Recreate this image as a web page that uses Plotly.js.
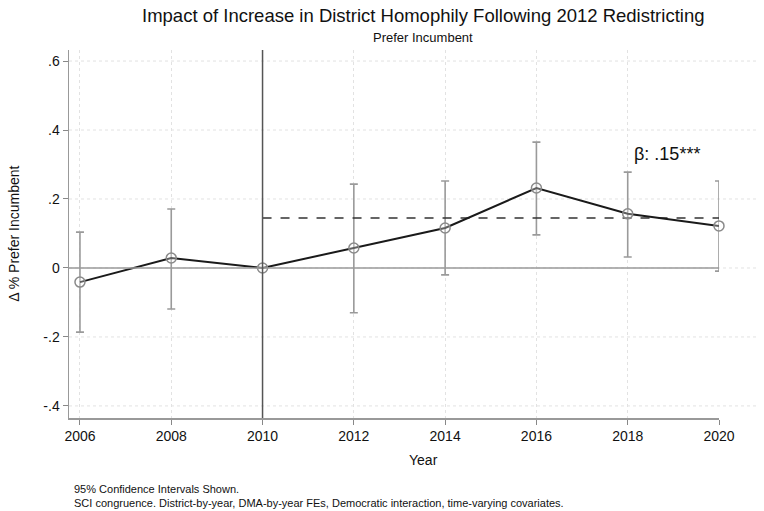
<!DOCTYPE html>
<html>
<head>
<meta charset="utf-8">
<script src="https://cdn.plot.ly/plotly-3.0.1.min.js"></script>
<style>
  html, body { margin: 0; padding: 0; background: #fff; }
  #chart { width: 764px; height: 511px; }
</style>
</head>
<body>
<div id="chart"></div>
<script>
// ─── Data ───
const years = [2006, 2008, 2010, 2012, 2014, 2016, 2018, 2020];
const coef = [-0.041, 0.029, 0, 0.058, 0.116, 0.232, 0.157, 0.122];
const ciHigh = [0.104, 0.171, 0, 0.243, 0.252, 0.365, 0.278, 0.252];
const ciLow = [-0.186, -0.119, 0, -0.13, -0.02, 0.096, 0.032, -0.009];
const beta = 0.145;
const yTickVals = [-0.4, -0.2, 0, 0.2, 0.4, 0.6];
const yTickText = ["-.4", "-.2", "0", ".2", ".4", ".6"];

const font = "Liberation Sans, Arial, Helvetica, sans-serif";

// 2010 is the reference year: no interval drawn
const hasCI = years.map((y, i) => ciHigh[i] !== ciLow[i]);

// ─── Traces ───
const ciTrace = {
  x: years.filter((y, i) => hasCI[i]),
  y: coef.filter((c, i) => hasCI[i]),
  type: "scatter",
  mode: "markers",
  marker: { size: 1, color: "rgba(0,0,0,0)" },
  cliponaxis: false,
  error_y: {
    type: "data",
    symmetric: false,
    array: coef.map((c, i) => ciHigh[i] - c).filter((v, i) => hasCI[i]),
    arrayminus: coef.map((c, i) => c - ciLow[i]).filter((v, i) => hasCI[i]),
    color: "#9a9a9a",
    thickness: 1.6,
    width: 4,
  },
  hoverinfo: "skip",
};

const betaTrace = {
  x: [2010, 2020],
  y: [beta, beta],
  type: "scatter",
  mode: "lines",
  line: { color: "#333", width: 1.5, dash: "dash" },
  hoverinfo: "skip",
};

const lineTrace = {
  x: years,
  y: coef,
  type: "scatter",
  mode: "lines+markers",
  cliponaxis: false,
  line: { color: "#1a1a1a", width: 2 },
  marker: {
    symbol: "circle",
    size: 10,
    color: "rgba(255,255,255,0.3)",
    line: { color: "#8a8a8a", width: 1.5 },
  },
};

// ─── Layout ───
const gridShapes = yTickVals.map((v) => ({
  type: "line", xref: "paper", yref: "y",
  x0: 0, x1: 1.06, y0: v, y1: v,
  line: { color: "#e2e2e2", width: 1, dash: "dot" },
  layer: "below",
}));

const layout = {
  width: 764,
  height: 511,
  paper_bgcolor: "#fff",
  plot_bgcolor: "#fff",
  font: { family: font, color: "#111", size: 14 },
  margin: { l: 69, r: 45, t: 50, b: 93 },
  showlegend: false,
  title: {
    text: "Impact of Increase in District Homophily Following 2012 Redistricting",
    font: { size: 18.5, family: font, color: "#111" },
    x: 0.554, xanchor: "center", y: 0.97, yanchor: "middle",
  },
  xaxis: {
    range: [2005.76, 2020.0],
    tickvals: years,
    ticktext: years.map(String),
    ticks: "outside",
    ticklen: 5,
    tickcolor: "#888",
    showline: true,
    linecolor: "#999",
    linewidth: 1.5,
    showgrid: true,
    gridcolor: "#e2e2e2",
    griddash: "dot",
    zeroline: false,
    tickfont: { size: 14 },
  },
  yaxis: {
    range: [-0.435, 0.632],
    tickvals: yTickVals,
    ticktext: yTickText,
    ticks: "outside",
    ticklen: 5,
    tickcolor: "#888",
    showline: true,
    linecolor: "#999",
    linewidth: 1.5,
    showgrid: false,
    zeroline: false,
    tickfont: { size: 14 },
  },
  shapes: gridShapes.concat([
    {
      type: "line", xref: "paper", yref: "y",
      x0: 0, x1: 1, y0: 0, y1: 0,
      line: { color: "#9a9a9a", width: 1.5 },
    },
    {
      type: "line", xref: "x", yref: "paper",
      x0: 2010, x1: 2010, y0: 0, y1: 1,
      line: { color: "#555", width: 1.5 },
    },
  ]),
  annotations: [
    {
      text: "Prefer Incumbent",
      xref: "paper", yref: "paper",
      x: 0.545, y: 1.033, xanchor: "center", yanchor: "middle",
      showarrow: false, font: { size: 13 },
    },
    {
      text: "Year",
      xref: "paper", yref: "paper",
      x: 0.545, y: -0.115, xanchor: "center", yanchor: "middle",
      showarrow: false, font: { size: 14 },
    },
    {
      text: "Δ % Prefer Incumbent",
      xref: "paper", yref: "paper",
      x: -0.085, y: 0.5, xanchor: "center", yanchor: "middle",
      textangle: -90,
      showarrow: false, font: { size: 14 },
    },
    {
      text: "β: .15***",
      xref: "x", yref: "y",
      x: 2018.1, y: 0.33, xanchor: "left", yanchor: "middle",
      showarrow: false, font: { size: 18 },
    },
    {
      text: "95% Confidence Intervals Shown.<br>SCI congruence. District-by-year, DMA-by-year FEs, Democratic interaction, time-varying covariates.",
      xref: "paper", yref: "paper",
      x: 0.004, y: -0.172, xanchor: "left", yanchor: "top", align: "left",
      showarrow: false, font: { size: 11 },
    },
  ],
};

Plotly.newPlot("chart", [ciTrace, betaTrace, lineTrace], layout, { displayModeBar: false, staticPlot: true });
</script>
</body>
</html>
